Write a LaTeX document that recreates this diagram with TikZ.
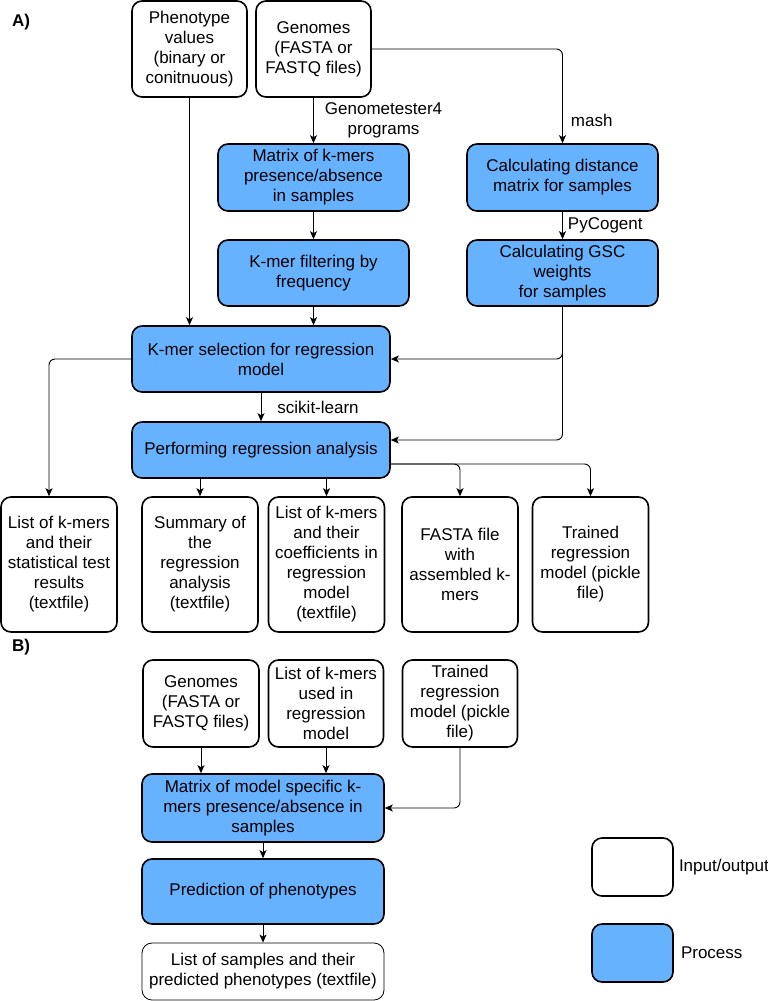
\documentclass[tikz,border=0pt]{standalone}
\usepackage{fontspec}
\setmainfont{Liberation Sans}
\usetikzlibrary{arrows.meta}
\definecolor{procblue}{RGB}{102,178,255}

\begin{document}
\begin{tikzpicture}[x=1pt, y=-1pt,
    every node/.style={font=\fontsize{17}{20}\selectfont, align=center, inner sep=0pt},
    io/.style={draw, line width=1.6pt, rounded corners=10pt, fill=white},
    proc/.style={io, fill=procblue},
    arr/.style={-{Stealth[length=8pt,width=7pt,inset=2pt]}, line width=0.9pt, rounded corners=6pt}]
    \useasboundingbox (0,0) rectangle (768,1001);

    \node[font=\fontsize{17}{20}\selectfont\bfseries] (labA) at (21,22) {A)};
    \node[io, minimum width=115pt, minimum height=96pt] (pheno) at (189.5,49) {Phenotype\\values\\(binary or\\conitnuous)};
    \node[io, minimum width=115pt, minimum height=96pt] (genomes) at (313.5,49) {Genomes\\(FASTA or\\FASTQ files)};
    \node[proc, minimum width=191pt, minimum height=67pt] (matrix) at (313.5,177.5) {Matrix of k-mers\\presence/absence\\in samples};
    \node[proc, minimum width=191pt, minimum height=66pt] (filter) at (313.5,273) {K-mer filtering by\\frequency};
    \node[proc, minimum width=191pt, minimum height=67pt] (distance) at (562.5,177.5) {Calculating distance\\matrix for samples};
    \node[proc, minimum width=191pt, minimum height=66pt] (gsc) at (562.5,273) {Calculating GSC\\weights\\for samples};
    \node[proc, minimum width=258pt, minimum height=66pt] (select) at (261,359) {K-mer selection for regression\\model};
    \node[proc, minimum width=258pt, minimum height=56pt] (regress) at (261,450) {Performing regression analysis};

    \node[io, minimum width=116pt, minimum height=135pt] (stats) at (59,564.5) {List of k-mers\\and their\\statistical test\\results\\(textfile)};
    \node[io, minimum width=116pt, minimum height=135pt] (summary) at (200,564.5) {Summary of\\the\\regression\\analysis\\(textfile)};
    \node[io, minimum width=116pt, minimum height=135pt] (coefs) at (326.5,564.5) {List of k-mers\\and their\\coefficients in\\regression\\model\\(textfile)};
    \node[io, minimum width=116pt, minimum height=135pt] (fasta) at (460,564.5) {FASTA file\\with\\assembled k-\\mers};
    \node[io, minimum width=116pt, minimum height=135pt] (pickle) at (590.5,564.5) {Trained\\regression\\model (pickle\\file)};

    \draw[arr] (pheno.south) -- (pheno.south |- select.north);
    \draw[arr] (genomes) -- node[right=11pt] {Genometester4\\programs} (matrix);
    \draw[arr] (genomes.east) -| node[pos=0.88, right=8pt] {mash} (distance.north);
    \draw[arr] (matrix) -- (filter);
    \draw[arr] (filter.south) -- (filter.south |- select.north);
    \draw[arr] (distance) -- node[right=5pt] {PyCogent} (gsc);
    \draw[arr] (gsc.south) |- (select.east);
    \draw[arr] (gsc.south) |- ([yshift=10pt]regress.east);
    \draw[arr] (select) -- node[right=16pt] {scikit-learn} (regress);
    \draw[arr] (select.west) -| ([xshift=-10pt]stats.north);
    \draw[arr] (summary.north |- regress.south) -- (summary.north);
    \draw[arr] (coefs.north |- regress.south) -- (coefs.north);
    \draw[arr] ([yshift=-14pt]regress.east) -| (fasta.north);
    \draw[arr] ([yshift=-14pt]regress.east) -| (pickle.north);

    \node[font=\fontsize{17}{20}\selectfont\bfseries] (labB) at (21,647) {B)};
    \node[io, minimum width=116pt, minimum height=87pt] (bgenomes) at (201,703.5) {Genomes\\(FASTA or\\FASTQ files)};
    \node[io, minimum width=115pt, minimum height=87pt] (bkmers) at (326,703.5) {List of k-mers\\used in\\regression\\model};
    \node[io, minimum width=115pt, minimum height=87pt] (bmodel) at (460,703.5) {Trained\\regression\\model (pickle\\file)};
    \node[proc, minimum width=242pt, minimum height=68pt] (bmatrix) at (263,808) {Matrix of model specific k-\\mers presence/absence in\\samples};
    \node[proc, minimum width=242pt, minimum height=65pt] (predict) at (263,891.5) {Prediction of phenotypes};
    \node[io, line width=0.8pt, minimum width=242pt, minimum height=57pt] (result) at (263,971.5) {List of samples and their\\predicted phenotypes (textfile)};

    \draw[arr] (bgenomes.south) -- (bgenomes.south |- bmatrix.north);
    \draw[arr] (bkmers.south) -- (bkmers.south |- bmatrix.north);
    \draw[arr] (bmodel.south) |- (bmatrix.east);
    \draw[arr] (bmatrix) -- (predict);
    \draw[arr] (predict) -- (result);

    \node[io, minimum width=81pt, minimum height=58pt] (keyio) at (632.5,867) {};
    \node[right=5pt] (keyiotext) at (keyio.east) {Input/output};
    \node[proc, minimum width=81pt, minimum height=58pt] (keyproc) at (632.5,953) {};
    \node[right=7pt] (keyproctext) at (keyproc.east) {Process};
\end{tikzpicture}
\end{document}
